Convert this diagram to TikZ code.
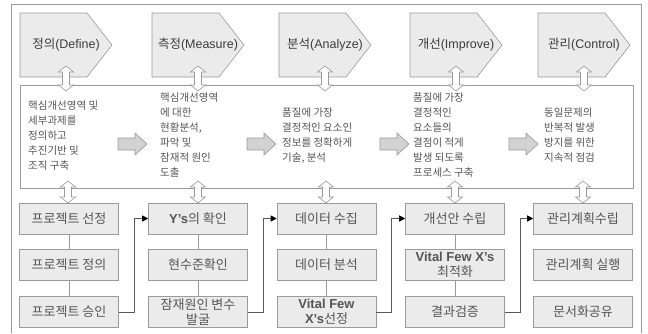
\documentclass[tikz,border=0pt]{standalone}
\usepackage{fontspec}
\setmainfont{Liberation Sans}
\newfontfamily\ko{Noto Sans CJK KR}
\newfontfamily\lat{Liberation Sans}
\usetikzlibrary{arrows.meta}
\definecolor{edge}{HTML}{9A9A9A}
\definecolor{boxfill}{HTML}{EBEBEB}
\definecolor{txt}{HTML}{555555}
\definecolor{hdtxt}{HTML}{3C3C3C}
\definecolor{arrfill}{HTML}{D2D2D2}
\newcommand\vdblarrow[3]{% x, top y, bottom y
  \path[draw=edge, fill=white, line width=0.6pt]
    (#1,#2) -- ({#1+7.5},{#2+6}) -- ({#1+3.5},{#2+6}) -- ({#1+3.5},{#3-6}) -- ({#1+7.5},{#3-6})
    -- (#1,#3) -- ({#1-7.5},{#3-6}) -- ({#1-3.5},{#3-6}) -- ({#1-3.5},{#2+6}) -- ({#1-7.5},{#2+6}) -- cycle;}
\newcommand\rgtarrow[2]{% left x, centre y
  \path[draw=edge, fill=arrfill, line width=0.6pt]
    (#1,{#2-6}) -- ({#1+17},{#2-6}) -- ({#1+17},{#2-11}) -- ({#1+29},#2) -- ({#1+17},{#2+11})
    -- ({#1+17},{#2+6}) -- (#1,{#2+6}) -- cycle;}
\newcommand\hdrshape[1]{% centre x
  \path[draw=edge, fill=boxfill, line width=0.6pt]
    ({#1-46},13) -- ({#1+21},13) -- ({#1+46},45) -- ({#1+21},77) -- ({#1-46},77) -- cycle;}
\begin{document}
\begin{tikzpicture}[x=1pt,y=-1pt,
  hdrtext/.style={font=\fontsize{12.5}{14}\selectfont, text=hdtxt, inner sep=0pt},
  desc/.style={anchor=west, align=left, inner sep=0pt, font=\fontsize{10.5}{15}\selectfont\ko, text=txt},
  stepbox/.style={draw=edge, fill=boxfill, line width=0.6pt, minimum width=99pt, minimum height=31pt,
    align=center, inner sep=1pt, font=\fontsize{13}{14.5}\selectfont\ko, text=txt},
  link/.style={draw=edge, line width=0.6pt},
  flow/.style={draw=black!65, line width=0.6pt, -{Triangle[length=6pt,width=6pt,color=black]}},
  ]
\useasboundingbox (0,0) rectangle (648,333);
\fill[white] (0,0) rectangle (648,333);
% outer frame
\draw[edge, line width=0.6pt] (11,333) -- (11,4) -- (641,4) -- (641,333);

% headers
\hdrshape{66}\hdrshape{198}\hdrshape{325}\hdrshape{456}\hdrshape{584}
\node[hdrtext] (h1) at (66,45) {{\ko 정의}(Define)};
\node[hdrtext] (h2) at (198,45) {{\ko 측정}(Measure)};
\node[hdrtext] (h3) at (325,45) {{\ko 분석}(Analyze)};
\node[hdrtext] (h4) at (456,45) {{\ko 개선}(Improve)};
\node[hdrtext] (h5) at (584,45) {{\ko 관리}(Control)};

% middle box
\node[draw=edge, fill=white, line width=0.6pt, minimum width=613pt, minimum height=103pt,
  anchor=north west, inner sep=0pt] (mid) at (20,85) {};

\vdblarrow{66}{66}{91}\vdblarrow{198}{66}{91}\vdblarrow{325}{66}{91}\vdblarrow{456}{66}{91}\vdblarrow{584}{66}{91}

\node[desc] (d1) at (28,135.5) {핵심개선영역 및\\세부과제를\\정의하고\\추진기반 및\\조직 구축};
\node[desc] (d2) at (160,135.5) {핵심개선영역\\에 대한\\현황분석,\\파악 및\\잠재적 원인\\도출};
\node[desc] (d3) at (282,135.5) {품질에 가장\\결정적인 요소인\\정보를 정확하게\\기술, 분석};
\node[desc] (d4) at (413,135.5) {품질에 가장\\결정적인\\요소들의\\결점이 적게\\발생 되도록\\프로세스 구축};
\node[desc] (d5) at (544,135.5) {동일문제의\\반복적 발생\\방지를 위한\\지속적 점검};

\rgtarrow{118}{144}\rgtarrow{247}{144}\rgtarrow{380}{144}\rgtarrow{509}{144}

% bottom boxes
\node[stepbox] (b11) at (69,218.5) {프로젝트 선정};
\node[stepbox] (b12) at (69,265) {프로젝트 정의};
\node[stepbox] (b13) at (69,312) {프로젝트 승인};
\node[stepbox] (b21) at (198,218.5) {{\lat\bfseries Y’s}의 확인};
\node[stepbox] (b22) at (198,265) {현수준확인};
\node[stepbox] (b23) at (198,312) {잠재원인 변수\\발굴};
\node[stepbox] (b31) at (326.5,218.5) {데이터 수집};
\node[stepbox] (b32) at (326.5,265) {데이터 분석};
\node[stepbox] (b33) at (326.5,312) {{\lat\bfseries Vital Few}\\{\lat\bfseries X’s}선정};
\node[stepbox] (b41) at (455,218.5) {개선안 수립};
\node[stepbox] (b42) at (455,265) {{\lat\bfseries Vital Few X’s}\\최적화};
\node[stepbox] (b43) at (455,312) {결과검증};
\node[stepbox] (b51) at (583,218.5) {관리계획수립};
\node[stepbox] (b52) at (583,265) {관리계획 실행};
\node[stepbox] (b53) at (583,312) {문서화공유};

\vdblarrow{68}{181}{203}\vdblarrow{198}{181}{203}\vdblarrow{326}{181}{203}\vdblarrow{455}{181}{203}\vdblarrow{583}{181}{203}

% vertical links
\foreach \c in {1,2,3,4} {
  \draw[link] (b\c1) -- (b\c2);
  \draw[link] (b\c2) -- (b\c3);
}
% elbow flows
\draw[flow] (b13.east) -- ++(15,0) |- (b21.west);
\draw[flow] (b23.east) -- ++(15,0) |- (b31.west);
\draw[flow] (b33.east) -- ++(15,0) |- (b41.west);
\draw[flow] (b43.east) -- ++(15,0) |- (b51.west);
\end{tikzpicture}
\end{document}
